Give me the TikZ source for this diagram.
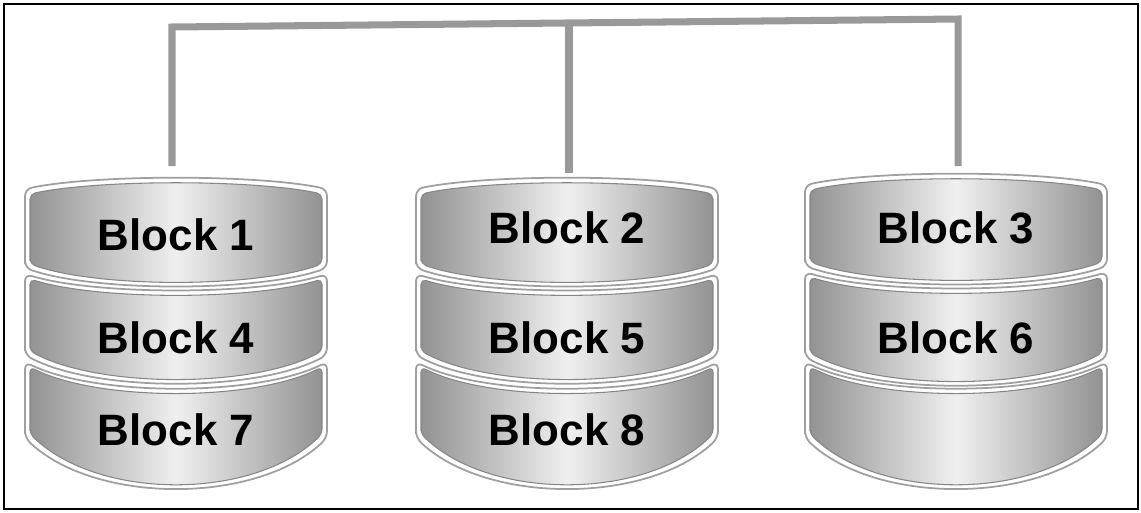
\documentclass[tikz,border=0pt]{standalone}
\usepackage{fontspec}
\setmainfont{Liberation Sans}
\tikzset{
  plateout/.style={draw=gray!75,line width=1pt,fill=white,rounded corners=4pt},
  platein/.style={draw=gray!95,line width=0.6pt,left color=gray!85,right color=gray!85,middle color=gray!12,rounded corners=3pt},
  blocklabel/.style={font=\bfseries\fontsize{25}{29}\selectfont,text=black},
  bus/.style={draw=black!40,line width=4pt},
}
\newcommand{\platter}[5]{%
  \draw[plateout] ({#1-151},{#4}) -- ({#1-151},{#2}) .. controls ({#1-80},{#2+1.33*(#3)}) and ({#1+80},{#2+1.33*(#3)}) .. ({#1+151},{#2}) -- ({#1+151},{#4}) .. controls ({#1+80},{#4+1.33*(#5)}) and ({#1-80},{#4+1.33*(#5)}) .. cycle;
  \draw[platein] ({#1-146},{#4-4}) -- ({#1-146},{#2+5}) .. controls ({#1-77},{#2+5+1.33*(#3)}) and ({#1+77},{#2+5+1.33*(#3)}) .. ({#1+146},{#2+5}) -- ({#1+146},{#4-4}) .. controls ({#1+77},{#4-4+1.33*(#5)}) and ({#1-77},{#4-4+1.33*(#5)}) .. cycle;
}
\begin{document}
\begin{tikzpicture}[x=0.02cm,y=-0.02cm]
  \useasboundingbox (0,0) rectangle (1141,512);
  \draw[line width=1.6pt] (4,4) rectangle (1138,509);
  \platter{176}{189}{-11}{268}{18}
  \platter{176}{274}{16}{355}{28}
  \platter{176}{362}{26}{438}{50}
  \platter{567}{189}{-11}{268}{18}
  \platter{567}{274}{16}{355}{28}
  \platter{567}{362}{26}{438}{50}
  \platter{956}{185}{-11}{266}{18}
  \platter{956}{272}{16}{357}{28}
  \platter{956}{362}{26}{438}{50}
  \node[blocklabel] (b1) at (176,235) {Block 1};
  \node[blocklabel] (b4) at (176,338) {Block 4};
  \node[blocklabel] (b7) at (176,430) {Block 7};
  \node[blocklabel] (b2) at (567,228) {Block 2};
  \node[blocklabel] (b5) at (567,338) {Block 5};
  \node[blocklabel] (b8) at (567,430) {Block 8};
  \node[blocklabel] (b3) at (956,228) {Block 3};
  \node[blocklabel] (b6) at (956,338) {Block 6};
  \coordinate (top1) at (172,166);
  \coordinate (top2) at (569,173);
  \coordinate (top3) at (958,166);
  \coordinate (busL) at (172,27);
  \coordinate (busM) at (569,23);
  \coordinate (busR) at (958,19);
  \draw[bus] (top1) -- (busL) -- (busR) -- (top3);
  \draw[bus] (busM) -- (top2);
\end{tikzpicture}
\end{document}
